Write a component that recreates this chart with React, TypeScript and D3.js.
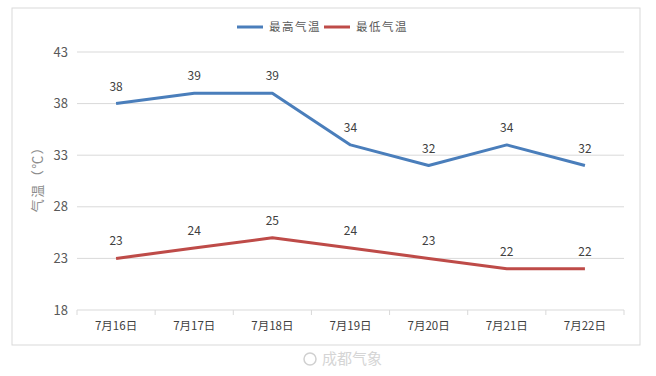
import React from "react";
import * as d3 from "d3";

const categories = ["7月16日", "7月17日", "7月18日", "7月19日", "7月20日", "7月21日", "7月22日"];
const highTemps = [38, 39, 39, 34, 32, 34, 32];
const lowTemps = [23, 24, 25, 24, 23, 22, 22];
const yTicks = [18, 23, 28, 33, 38, 43];
const seriesNames = ["最高气温", "最低气温"];
const seriesColors = ["#4A7EBB", "#BE4B48"];

export default function App() {
  const W = 656, H = 376;
  const x = d3.scaleBand<string>().domain(categories).range([77, 624]);
  const y = d3.scaleLinear().domain([18, 43]).range([310, 52]);
  const line = d3.line<number>()
    .x((_, i) => (x(categories[i]) as number) + x.bandwidth() / 2)
    .y((d) => y(d));
  const series = [highTemps, lowTemps];
  const font = "'Microsoft YaHei','Noto Sans CJK SC','DejaVu Sans',sans-serif";
  return (
    <svg width={W} height={H} style={{ position: "absolute", left: 0, top: 0, background: "#fff" }} fontFamily={font}>
      <rect x={12} y={8} width={628} height={337} fill="#fff" stroke="#d9d9d9" strokeWidth={1} />
      {yTicks.map((t) => (
        <g key={t}>
          <line x1={77} x2={624} y1={y(t)} y2={y(t)} stroke="#d9d9d9" strokeWidth={1} />
          <text x={68} y={y(t)} dy="0.35em" textAnchor="end" fontSize={13} fill="#595959">{t}</text>
        </g>
      ))}
      {categories.concat([""]).map((c, i) => {
        const xx = 77 + i * x.step();
        return <line key={i} x1={xx} x2={xx} y1={310} y2={315} stroke="#d9d9d9" />;
      })}
      {categories.map((c) => (
        <text key={c} x={(x(c) as number) + x.bandwidth() / 2} y={330} textAnchor="middle" fontSize={11.5} fill="#404040">{c}</text>
      ))}
      <text transform={`translate(42,${176}) rotate(-90)`} textAnchor="middle" fontSize={13} letterSpacing={1.5} fill="#8c8c8c">气温（℃）</text>
      {series.map((s, si) => (
        <g key={si}>
          <path d={line(s) as string} fill="none" stroke={seriesColors[si]} strokeWidth={3} strokeLinejoin="round" />
          {s.map((v, i) => (
            <text key={i} x={(x(categories[i]) as number) + x.bandwidth() / 2} y={y(v) - 13} textAnchor="middle" fontSize={12} fill="#404040">{v}</text>
          ))}
        </g>
      ))}
      {seriesNames.map((n, i) => {
        const lx = 237 + i * 87;
        return (
          <g key={n}>
            <line x1={lx} x2={lx + 26} y1={27} y2={27} stroke={seriesColors[i]} strokeWidth={3} />
            <text x={lx + 32} y={27} dy="0.35em" fontSize={11.5} letterSpacing={1.5} fill="#595959">{n}</text>
          </g>
        );
      })}
      <circle cx={310} cy={359} r={6} fill="none" stroke="#d0d0d0" strokeWidth={1.5} />
      <text x={322} y={359} dy="0.35em" fontSize={15} fill="#d5d5d5">成都气象</text>
    </svg>
  );
}
